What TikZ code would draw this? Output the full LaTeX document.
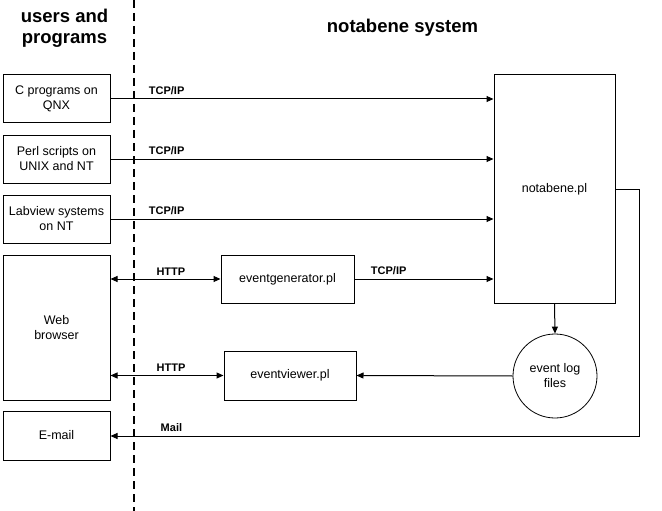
\documentclass[tikz,border=0pt]{standalone}
\usepackage{fontspec}
\setmainfont{Liberation Sans}
\usetikzlibrary{arrows.meta}

\tikzset{
  box/.style={draw=black,line width=1pt,inner sep=0pt,align=center,font=\fontsize{12.5}{15}\selectfont},
  logfile/.style={circle,draw=black,line width=0.8pt,inner sep=0pt,minimum size=84pt,align=center,font=\fontsize{12.5}{15}\selectfont},
  heading/.style={font=\bfseries\fontsize{18.5}{20.5}\selectfont,align=center},
  proto/.style={font=\bfseries\fontsize{11}{12}\selectfont,anchor=south west,inner sep=0pt,yshift=3.5pt},
  arr/.style={-{Triangle[length=7pt,width=6pt]},line width=1pt},
  biarr/.style={{Triangle[length=7pt,width=6pt]}-{Triangle[length=7pt,width=6pt]},line width=1pt}
}

\begin{document}
\begin{tikzpicture}[x=1pt,y=-1pt]
           \useasboundingbox (0,0) rectangle (662,511);
           % dividing line
           \draw[line width=2pt,dash pattern=on 8pt off 5pt] (134,0) -- (134,511);
           \node[heading,anchor=north] (users) at (64.5,6) {users and\\programs};
           \node[heading,anchor=base] (system) at (402.5,33) {notabene system};

           % left column
           \node[box,minimum width=107pt,minimum height=48pt] (cprog) at (56.5,99) {C programs on\\QNX};
           \node[box,minimum width=107pt,minimum height=48pt] (perl) at (56.5,159) {Perl scripts on\\UNIX and NT};
           \node[box,minimum width=107pt,minimum height=48pt] (labview) at (56.5,219) {Labview systems\\on NT};
           \node[box,minimum width=107pt,minimum height=145pt] (browser) at (56.5,327.5) {Web\\browser};
           \node[box,minimum width=107pt,minimum height=49pt] (email) at (56.5,435.5) {E-mail};

           % system side
           \node[box,minimum width=121pt,minimum height=228pt] (notabene) at (554.5,189) {notabene.pl};
           \node[box,minimum width=133pt,minimum height=48pt] (generator) at (287.5,279) {eventgenerator.pl};
           \node[box,minimum width=132pt,minimum height=49pt] (viewer) at (290,375.5) {eventviewer.pl};
           \node[logfile] (logs) at (555,376) {event log\\files};
           \coordinate (mailcorner) at (639.5,436);

           \draw[arr] (cprog.east) -- node[proto,pos=0.099] {TCP/IP} (cprog.east -| notabene.west);
           \draw[arr] (perl.east) -- node[proto,pos=0.099] {TCP/IP} (perl.east -| notabene.west);
           \draw[arr] (labview.east) -- node[proto,pos=0.099] {TCP/IP} (labview.east -| notabene.west);
           \draw[arr] (generator.east) -- node[proto,pos=0.115] {TCP/IP} (generator.east -| notabene.west);
           \draw[biarr] (browser.east |- generator.west) -- node[proto,pos=0.414] {HTTP} (generator.west);
           \draw[biarr] (browser.east |- viewer.west) -- node[proto,pos=0.404] {HTTP} (viewer.west);
           \draw[arr] (logs.west) -- (viewer.east);
           \draw[arr] (notabene.south) -- (logs.north);
           \draw[arr] (notabene.east) -| (mailcorner) -- node[proto,pos=0.906] {Mail} (mailcorner -| email.east);
        \end{tikzpicture}
\end{document}
